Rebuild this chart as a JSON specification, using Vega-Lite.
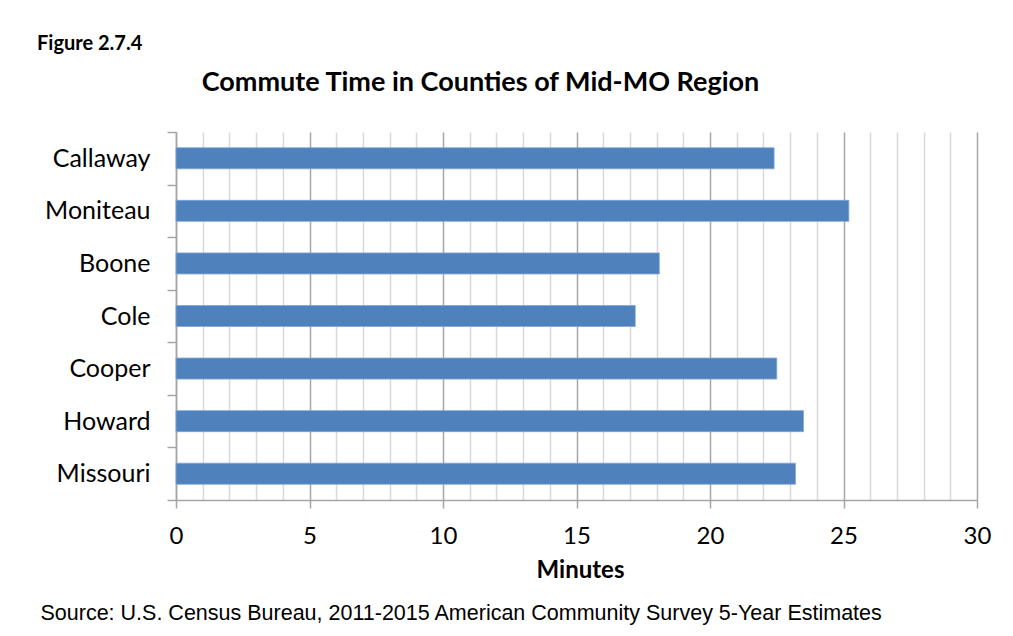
{
  "$schema": "https://vega.github.io/schema/vega-lite/v6.json",
  "autosize": {"type": "none"},
  "width": 801,
  "height": 368,
  "padding": {"left": 176, "top": 132, "right": 36, "bottom": 136},
  "background": "white",
  "title": {
    "text": "Figure 2.7.4",
    "anchor": "start",
    "frame": "bounds",
    "baseline": "alphabetic",
    "offset": 22,
    "dy": 24,
    "dx": -3,
    "font": "Lato",
    "fontSize": 20,
    "fontWeight": "bold",
    "color": "black"
  },
  "data": {
    "values": [
      {"county": "Callaway", "minutes": 22.4},
      {"county": "Moniteau", "minutes": 25.2},
      {"county": "Boone", "minutes": 18.1},
      {"county": "Cole", "minutes": 17.2},
      {"county": "Cooper", "minutes": 22.5},
      {"county": "Howard", "minutes": 23.5},
      {"county": "Missouri", "minutes": 23.2}
    ]
  },
  "encoding": {
    "y": {
      "field": "county",
      "type": "nominal",
      "sort": null,
      "scale": {"paddingInner": 0, "paddingOuter": 0},
      "axis": {
        "title": "Commute Time in Counties of Mid-MO Region",
        "titleAngle": 0,
        "titleAlign": "center",
        "titleBaseline": "alphabetic",
        "titleX": 304,
        "titleY": -42,
        "titleFont": "Lato",
        "titleFontSize": 27,
        "titleFontWeight": "bold",
        "titleColor": "black",
        "labelFont": "Lato",
        "labelFontSize": 25,
        "labelColor": "black",
        "labelPadding": 17,
        "tickBand": "extent",
        "tickSize": 9,
        "tickColor": "#a6a6a6",
        "tickWidth": 1.5,
        "domainColor": "#a6a6a6",
        "domainWidth": 1.5,
        "grid": false
      }
    }
  },
  "layer": [
    {
      "mark": {"type": "bar", "opacity": 0, "height": {"band": 0.4}},
      "encoding": {
        "x": {
          "field": "minutes",
          "type": "quantitative",
          "scale": {"domain": [0, 30], "nice": false},
          "axis": {
            "orient": "bottom",
            "values": [1, 2, 3, 4, 6, 7, 8, 9, 11, 12, 13, 14, 16, 17, 18, 19, 21, 22, 23, 24, 26, 27, 28, 29],
            "grid": true,
            "gridColor": "#d9d9d9",
            "gridWidth": 1.5,
            "ticks": false,
            "labels": false,
            "domain": false,
            "title": "Source: U.S. Census Bureau, 2011-2015 American Community Survey 5-Year Estimates",
            "titleX": -136,
            "titleY": 119,
            "titleAlign": "left",
            "titleAnchor": "start",
            "titleBaseline": "alphabetic",
            "titleFont": "Liberation Sans",
            "titleFontSize": 21.5,
            "titleFontWeight": "normal",
            "titleColor": "black"
          }
        }
      }
    },
    {
      "mark": {"type": "bar", "color": "#4f81bd", "stroke": "#7fa5d5", "strokeWidth": 0.8, "height": {"band": 0.4}},
      "encoding": {
        "x": {
          "field": "minutes",
          "type": "quantitative",
          "scale": {"domain": [0, 30], "nice": false},
          "axis": {
            "orient": "bottom",
            "values": [0, 5, 10, 15, 20, 25, 30],
            "grid": true,
            "gridColor": "#a6a6a6",
            "gridWidth": 1.5,
            "tickSize": 8,
            "tickColor": "#a6a6a6",
            "tickWidth": 1.5,
            "domainColor": "#a6a6a6",
            "domainWidth": 1.5,
            "labelFont": "Lato",
            "labelFontSize": 24,
            "labelColor": "black",
            "labelPadding": 16,
            "labelFlush": false,
            "title": "Minutes",
            "titleX": 404,
            "titleY": 77,
            "titleBaseline": "alphabetic",
            "titleFont": "Lato",
            "titleFontSize": 24,
            "titleFontWeight": "bold",
            "titleColor": "black"
          }
        }
      }
    }
  ],
  "resolve": {"axis": {"x": "independent"}},
  "config": {"view": {"stroke": null}}
}
